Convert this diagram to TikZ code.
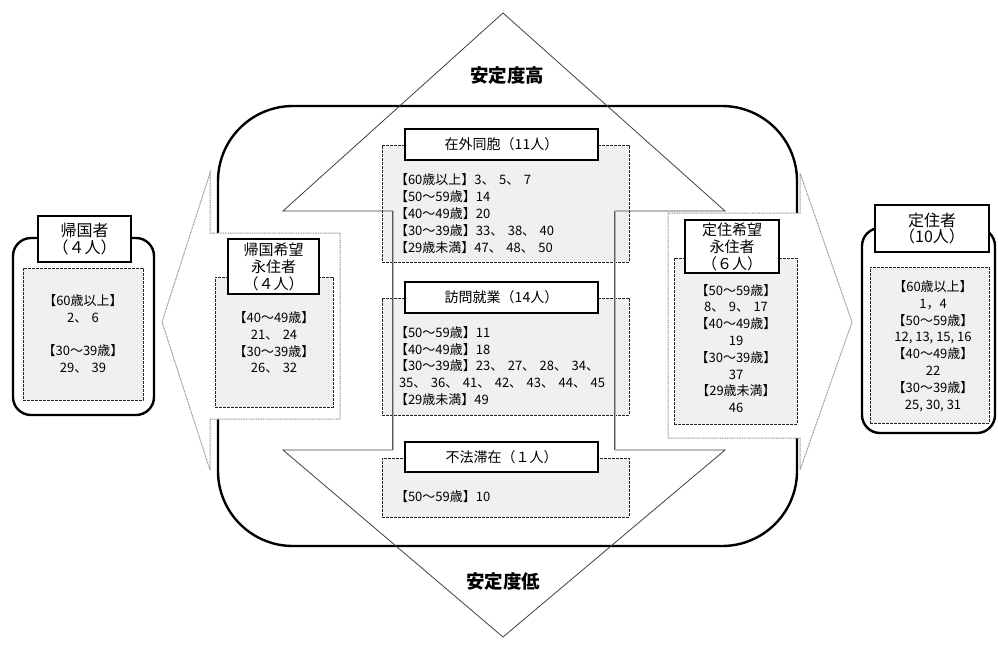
\documentclass[tikz,border=0pt]{standalone}
\usepackage{fontspec}
\newfontfamily\jp{Noto Sans CJK JP}
\newcommand\jsep{、\hspace{4.5pt}}
\begin{document}
\begin{tikzpicture}[x=1pt,y=-1pt,
  every node/.style={inner sep=0pt, outer sep=0pt},
  frame/.style={draw=black, line width=2.4pt, rounded corners=75pt},
  sidearrow/.style={draw=gray!85, fill=white, line width=1pt, dash pattern=on 1pt off 0.7pt},
  gbox/.style={draw=black!85, fill=black!6, line width=0.8pt, dash pattern=on 2.6pt off 1.4pt},
  tbox/.style={draw=black, fill=white, line width=1.1pt},
  rbox/.style={draw=black, fill=white, line width=2.4pt, rounded corners=18pt},
  diag/.style={draw=black!75, line width=0.8pt},
  shaft/.style={draw=black!65, line width=0.8pt, double=gray!60, double distance=0.9pt},
  mttl/.style={font=\jp\fontsize{14}{17}\selectfont},
  sttl/.style={font=\jp\fontsize{15}{17}\selectfont, align=center},
  body/.style={font=\jp\fontsize{13}{16.8}\selectfont, align=left},
  cbody/.style={font=\jp\fontsize{13}{16.8}\selectfont, align=center},
  big/.style={font=\jp\bfseries\fontsize{18.5}{20}\selectfont}]
\useasboundingbox (0,0) rectangle (998,646);

% main frame
\node[frame, minimum width=579pt, minimum height=440pt] (frame) at (507.5,326) {};

% side block arrows (dotted, white)
\draw[sidearrow] (162,322) -- (210,173) -- (210,233) -- (340,233) -- (340,419) -- (210,419) -- (210,470) -- cycle;
\draw[sidearrow] (852,322) -- (800,173) -- (800,213) -- (668,213) -- (668,438) -- (800,438) -- (800,470) -- cycle;

% grey dashed content boxes
\node[gbox, minimum width=247pt, minimum height=117pt] (zaigaiB) at (505.5,203.5) {};
\node[gbox, minimum width=247pt, minimum height=117pt] (houmonB) at (505.5,356.5) {};
\node[gbox, minimum width=247pt, minimum height=59pt] (fuhouB) at (505.5,487.5) {};
\node[gbox, minimum width=118pt, minimum height=130pt] (kikokuKB) at (274,342) {};
\node[gbox, minimum width=123pt, minimum height=166pt] (teijuKB) at (735.5,341) {};

% up/down stability arrow
\draw[diag] (393,211) -- (283,211) -- (503,13) -- (725,211) -- (615,211);
\draw[diag] (393,450) -- (283,450) -- (503,637) -- (725,450) -- (615,450);
\draw[shaft] (393,211) -- (393,450);
\draw[shaft] (615,211) -- (615,450);

\node[big] (high) at (507,76) {安定度高};
\node[big] (low) at (503,582) {安定度低};

% middle titles
\node[tbox, minimum width=193pt, minimum height=31pt] (zaigaiT) at (501.5,144.5) {};
\node[mttl] (zaigaiL) at (zaigaiT) {在外同胞（11人）};
\node[tbox, minimum width=193pt, minimum height=31pt] (houmonT) at (501.5,297.5) {};
\node[mttl] (houmonL) at (houmonT) {訪問就業（14人）};
\node[tbox, minimum width=193pt, minimum height=30pt] (fuhouT) at (501.5,457) {};
\node[mttl] (fuhouL) at (fuhouT) {不法滞在（１人）};

% middle contents
\node[body, anchor=west] (zaigaiC) at (395,213.5) {【60歳以上】3\jsep 5\jsep 7\\【50～59歳】14\\【40～49歳】20\\【30～39歳】33\jsep 38\jsep 40\\【29歳未満】47\jsep 48\jsep 50};
\node[body, anchor=west] (houmonC) at (395,366) {【50～59歳】11\\【40～49歳】18\\【30～39歳】23\jsep 27\jsep 28\jsep 34、\\\hspace{4pt}35\jsep 36\jsep 41\jsep 42\jsep 43\jsep 44\jsep 45\\【29歳未満】49};
\node[body, anchor=west] (fuhouC) at (395,497) {【50～59歳】10};

% left inner: 帰国希望永住者
\node[tbox, minimum width=91pt, minimum height=55pt] (kikokuKT) at (273.5,266.5) {};
\node[sttl] (kikokuKL) at (kikokuKT) {帰国希望\\永住者\\（４人）};
\node[cbody] (kikokuKC) at (274,342.5) {【40～49歳】\\21\jsep 24\\【30～39歳】\\26\jsep 32};

% right inner: 定住希望永住者
\node[tbox, minimum width=94pt, minimum height=53pt] (teijuKT) at (732,246.5) {};
\node[sttl] (teijuKL) at (teijuKT) {定住希望\\永住者\\（６人）};
\node[cbody] (teijuKC) at (736,348.5) {【50～59歳】\\8\jsep 9\jsep 17\\【40～49歳】\\19\\【30～39歳】\\37\\【29歳未満】\\46};

% 帰国者 (left)
\node[rbox, minimum width=141pt, minimum height=177pt] (kikokuR) at (83.5,326.5) {};
\node[gbox, minimum width=120pt, minimum height=132pt] (kikokuB) at (83,334) {};
\node[tbox, minimum width=93pt, minimum height=46pt] (kikokuT) at (84.5,239) {};
\node[sttl, font=\jp\fontsize{16}{16.5}\selectfont] (kikokuL) at (kikokuT) {帰国者\\（４人）};
\node[cbody] (kikokuC) at (83,334) {【60歳以上】\\2\jsep 6\\[16.8pt]【30～39歳】\\29\jsep 39};

% 定住者 (right)
\node[rbox, minimum width=133pt, minimum height=205pt] (teijuR) at (928.5,330.5) {};
\node[gbox, minimum width=119pt, minimum height=156pt] (teijuB) at (929.5,345) {};
\node[tbox, minimum width=114pt, minimum height=47pt] (teijuT) at (932,228.5) {};
\node[sttl, font=\jp\fontsize{16}{16.5}\selectfont] (teijuL) at (teijuT) {定住者\\（10人）};
\node[cbody] (teijuC) at (933,346) {【60歳以上】\\1，4\\【50～59歳】\\12, 13, 15, 16\\【40～49歳】\\22\\【30～39歳】\\25, 30, 31};
\end{tikzpicture}
\end{document}
